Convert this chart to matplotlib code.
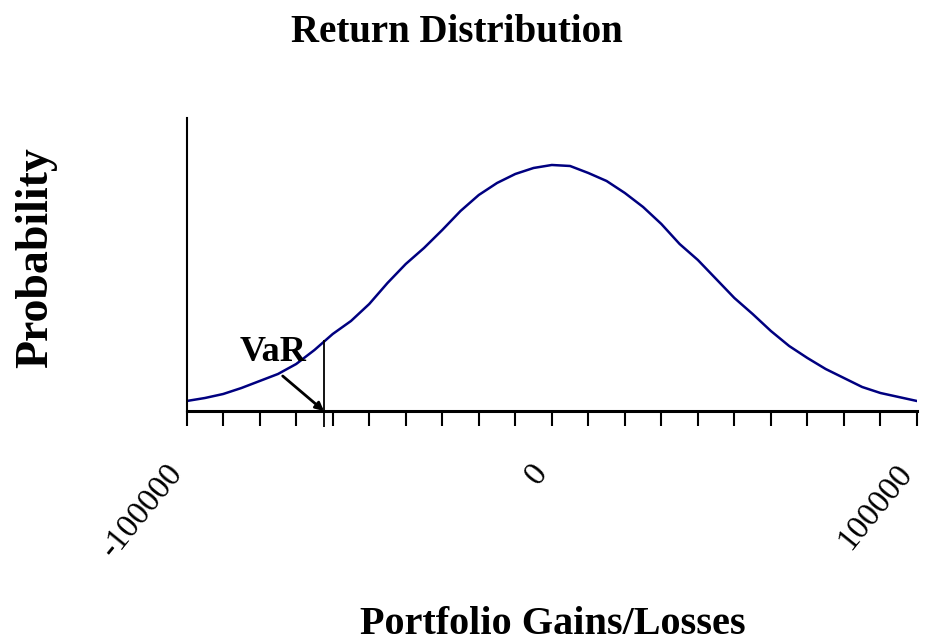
import numpy as np
import matplotlib
matplotlib.use("Agg")
import matplotlib.pyplot as plt
import matplotlib.transforms as mtransforms

# gains/losses grid and probability
gains = [-100000, -95000, -90000, -85000, -80000, -75000, -70000, -65000,
         -60000, -55000, -50000, -45000, -40000, -35000, -30000, -25000,
         -20000, -15000, -10000, -5000, 0, 5000, 10000, 15000, 20000,
         25000, 30000, 35000, 40000, 45000, 50000, 55000, 60000, 65000,
         70000, 75000, 80000, 85000, 90000, 95000, 100000]
prob = [0.0010, 0.0013, 0.0017, 0.0023, 0.0030, 0.0037, 0.0047, 0.0061,
        0.0077, 0.0090, 0.0107, 0.0128, 0.0147, 0.0163, 0.0181, 0.0200,
        0.0216, 0.0228, 0.0237, 0.0243, 0.0246, 0.0245, 0.0238, 0.0230,
        0.0218, 0.0204, 0.0187, 0.0167, 0.0151, 0.0132, 0.0113, 0.0097,
        0.0080, 0.0065, 0.0053, 0.0042, 0.0033, 0.0024, 0.0018, 0.0014,
        0.0010]
var_value = -62400
major_ticks = [-100000, 0, 100000]
major_labels = ["-100000", "0", "100000"]

plt.rcParams['font.family'] = ['Liberation Serif', 'DejaVu Serif']

fig = plt.figure(figsize=(9.25, 6.44), dpi=100)
ax = fig.add_axes([0.2018, 0.3618, 0.7895, 0.455])

ax.plot(gains, prob, color='#000080', lw=1.8)

# VaR marker
var_h = np.interp(var_value, gains, prob) + 0.0002
ax.plot([var_value, var_value], [-0.0016, var_h], color='black', lw=1.3,
        clip_on=False, solid_capstyle='butt')
ax.annotate('', xy=(var_value, 0), xytext=(-73700, 0.0035),
            arrowprops=dict(arrowstyle='-|>', color='black', lw=2,
                            mutation_scale=12, shrinkA=0, shrinkB=0))
ax.text(-76400, 0.0058, 'VaR', fontsize=26, fontweight='bold',
        ha='center', va='center')

ax.set_xlim(-100000, 100000)
ax.set_ylim(0, 0.0293)
ax.set_yticks([])
ax.set_xticks(major_ticks)
ax.set_xticklabels(major_labels, fontsize=24, rotation=51,
                   ha='right', va='center', rotation_mode='anchor')
ax.set_xticks(np.arange(-100000, 100001, 10000), minor=True)
ax.tick_params(axis='x', which='both', direction='out', length=11,
               width=1.5, color='black')
ax.tick_params(axis='x', which='major', pad=30)
offset = mtransforms.ScaledTranslation(-10 / 100, 0, fig.dpi_scale_trans)
for lab in ax.get_xticklabels():
    lab.set_transform(lab.get_transform() + offset)

ax.spines['top'].set_visible(False)
ax.spines['right'].set_visible(False)
ax.spines['bottom'].set_linewidth(2.2)
ax.spines['left'].set_linewidth(1.5)

fig.text(0.494, 0.950, 'Return Distribution', fontsize=28,
         fontweight='bold', ha='center', va='center')
fig.text(0.598, 0.031, 'Portfolio Gains/Losses', fontsize=29,
         fontweight='bold', ha='center', va='center')
fig.text(0.039, 0.60, 'Probability', fontsize=33, fontweight='bold',
         rotation=90, ha='center', va='center')

fig.savefig('out.png', dpi=100)
